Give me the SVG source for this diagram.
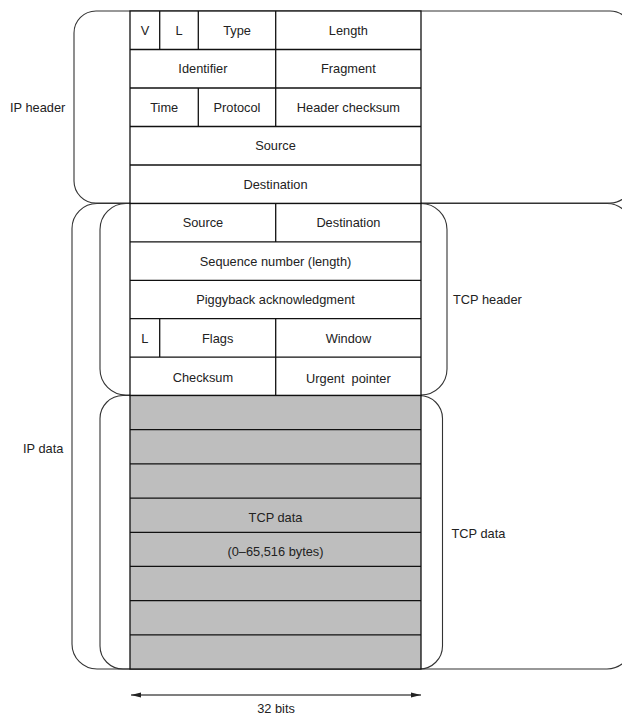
<svg xmlns="http://www.w3.org/2000/svg" width="622" height="715" viewBox="0 0 622 715">
<style>
.br{fill:none;stroke:#333;stroke-width:1.1}
.c{fill:#fff;stroke:#111;stroke-width:1.3}
.d{fill:#bebebe;stroke:#111;stroke-width:1.3}
.ln{stroke:#111;stroke-width:1.3}
text{font-family:"Liberation Sans",Arial,sans-serif;font-size:12.8px;fill:#222}
.m{text-anchor:middle}
</style>
<defs>
<marker id="ah" viewBox="0 0 10 6" refX="10" refY="3" markerWidth="10" markerHeight="6" markerUnits="userSpaceOnUse" orient="auto-start-reverse">
<path d="M0,0.6 L10,3 L0,5.4 Z" fill="#222"/>
</marker>
</defs>
<g id="brackets">
<g id="ip-header-bracket"><rect class="br" x="74" y="11" width="558" height="192" rx="22" ry="22"/><text x="10" y="112">IP header</text></g>
<g id="ip-data-bracket"><rect class="br" x="72" y="203.5" width="560" height="465.5" rx="25" ry="25"/><text x="23" y="453">IP data</text></g>
<g id="tcp-header-bracket"><rect class="br" x="100" y="203.5" width="347" height="191.5" rx="26" ry="26"/><text x="453" y="304">TCP header</text></g>
<g id="tcp-data-bracket"><rect class="br" x="100" y="395.5" width="342.5" height="273.5" rx="23" ry="23"/><text x="451.5" y="538">TCP data</text></g>
</g>
<g id="ip-header">
<rect class="c" x="130" y="11" width="291" height="192.5"/>
<line class="ln" x1="130" y1="49.5" x2="421" y2="49.5"/>
<line class="ln" x1="130" y1="88" x2="421" y2="88"/>
<line class="ln" x1="130" y1="126.5" x2="421" y2="126.5"/>
<line class="ln" x1="130" y1="165" x2="421" y2="165"/>
<line class="ln" x1="159.7" y1="11" x2="159.7" y2="49.5"/>
<line class="ln" x1="198.3" y1="11" x2="198.3" y2="49.5"/>
<line class="ln" x1="275.7" y1="11" x2="275.7" y2="126.5"/>
<line class="ln" x1="198.3" y1="88" x2="198.3" y2="126.5"/>
<g id="f-v"><text class="m" x="144.9" y="35">V</text></g>
<g id="f-l"><text class="m" x="179" y="35">L</text></g>
<g id="f-type"><text class="m" x="237" y="35">Type</text></g>
<g id="f-length"><text class="m" x="348.4" y="35">Length</text></g>
<g id="f-identifier"><text class="m" x="202.9" y="73.4">Identifier</text></g>
<g id="f-fragment"><text class="m" x="348.4" y="73.4">Fragment</text></g>
<g id="f-time"><text class="m" x="164.2" y="111.9">Time</text></g>
<g id="f-protocol"><text class="m" x="237" y="111.9">Protocol</text></g>
<g id="f-hchk"><text class="m" x="348.4" y="111.9">Header checksum</text></g>
<g id="f-src"><text class="m" x="275.5" y="150.4">Source</text></g>
<g id="f-dst"><text class="m" x="275.5" y="188.9">Destination</text></g>
</g>
<g id="tcp-header">
<rect class="c" x="130" y="203.5" width="291" height="192"/>
<line class="ln" x1="130" y1="241.9" x2="421" y2="241.9"/>
<line class="ln" x1="130" y1="280.3" x2="421" y2="280.3"/>
<line class="ln" x1="130" y1="318.7" x2="421" y2="318.7"/>
<line class="ln" x1="130" y1="357.1" x2="421" y2="357.1"/>
<line class="ln" x1="275.7" y1="203.5" x2="275.7" y2="241.9"/>
<line class="ln" x1="275.7" y1="318.7" x2="275.7" y2="395.5"/>
<line class="ln" x1="159.7" y1="318.7" x2="159.7" y2="357.1"/>
<g id="t-src"><text class="m" x="202.9" y="226.8">Source</text></g>
<g id="t-dst"><text class="m" x="348.4" y="226.8">Destination</text></g>
<g id="t-seq"><text class="m" x="275.5" y="265.7">Sequence number (length)</text></g>
<g id="t-ack"><text class="m" x="275.5" y="304.1">Piggyback acknowledgment</text></g>
<g id="t-l"><text class="m" x="144.9" y="342.5">L</text></g>
<g id="t-flags"><text class="m" x="217.7" y="342.5">Flags</text></g>
<g id="t-window"><text class="m" x="348.4" y="342.5">Window</text></g>
<g id="t-chk"><text class="m" x="202.9" y="381.5">Checksum</text></g>
<g id="t-urg"><text class="m" x="348.4" y="382.5" xml:space="preserve">Urgent  pointer</text></g>
</g>
<g id="tcp-data">
<rect class="d" x="130" y="395.5" width="291" height="273.5"/>
<line class="ln" x1="130" y1="429.7" x2="421" y2="429.7"/>
<line class="ln" x1="130" y1="463.9" x2="421" y2="463.9"/>
<line class="ln" x1="130" y1="498.1" x2="421" y2="498.1"/>
<line class="ln" x1="130" y1="532.3" x2="421" y2="532.3"/>
<line class="ln" x1="130" y1="566.4" x2="421" y2="566.4"/>
<line class="ln" x1="130" y1="600.6" x2="421" y2="600.6"/>
<line class="ln" x1="130" y1="634.8" x2="421" y2="634.8"/>
<text class="m" x="275.5" y="521.8">TCP data</text>
<text class="m" x="275.5" y="555.6">(0–65,516 bytes)</text>
</g>
<g id="connectors">
<line x1="131" y1="695" x2="421" y2="695" stroke="#555" stroke-width="1.5" marker-start="url(#ah)" marker-end="url(#ah)"/>
</g>
<g id="width-label"><text class="m" x="276" y="713">32 bits</text></g>
</svg>
